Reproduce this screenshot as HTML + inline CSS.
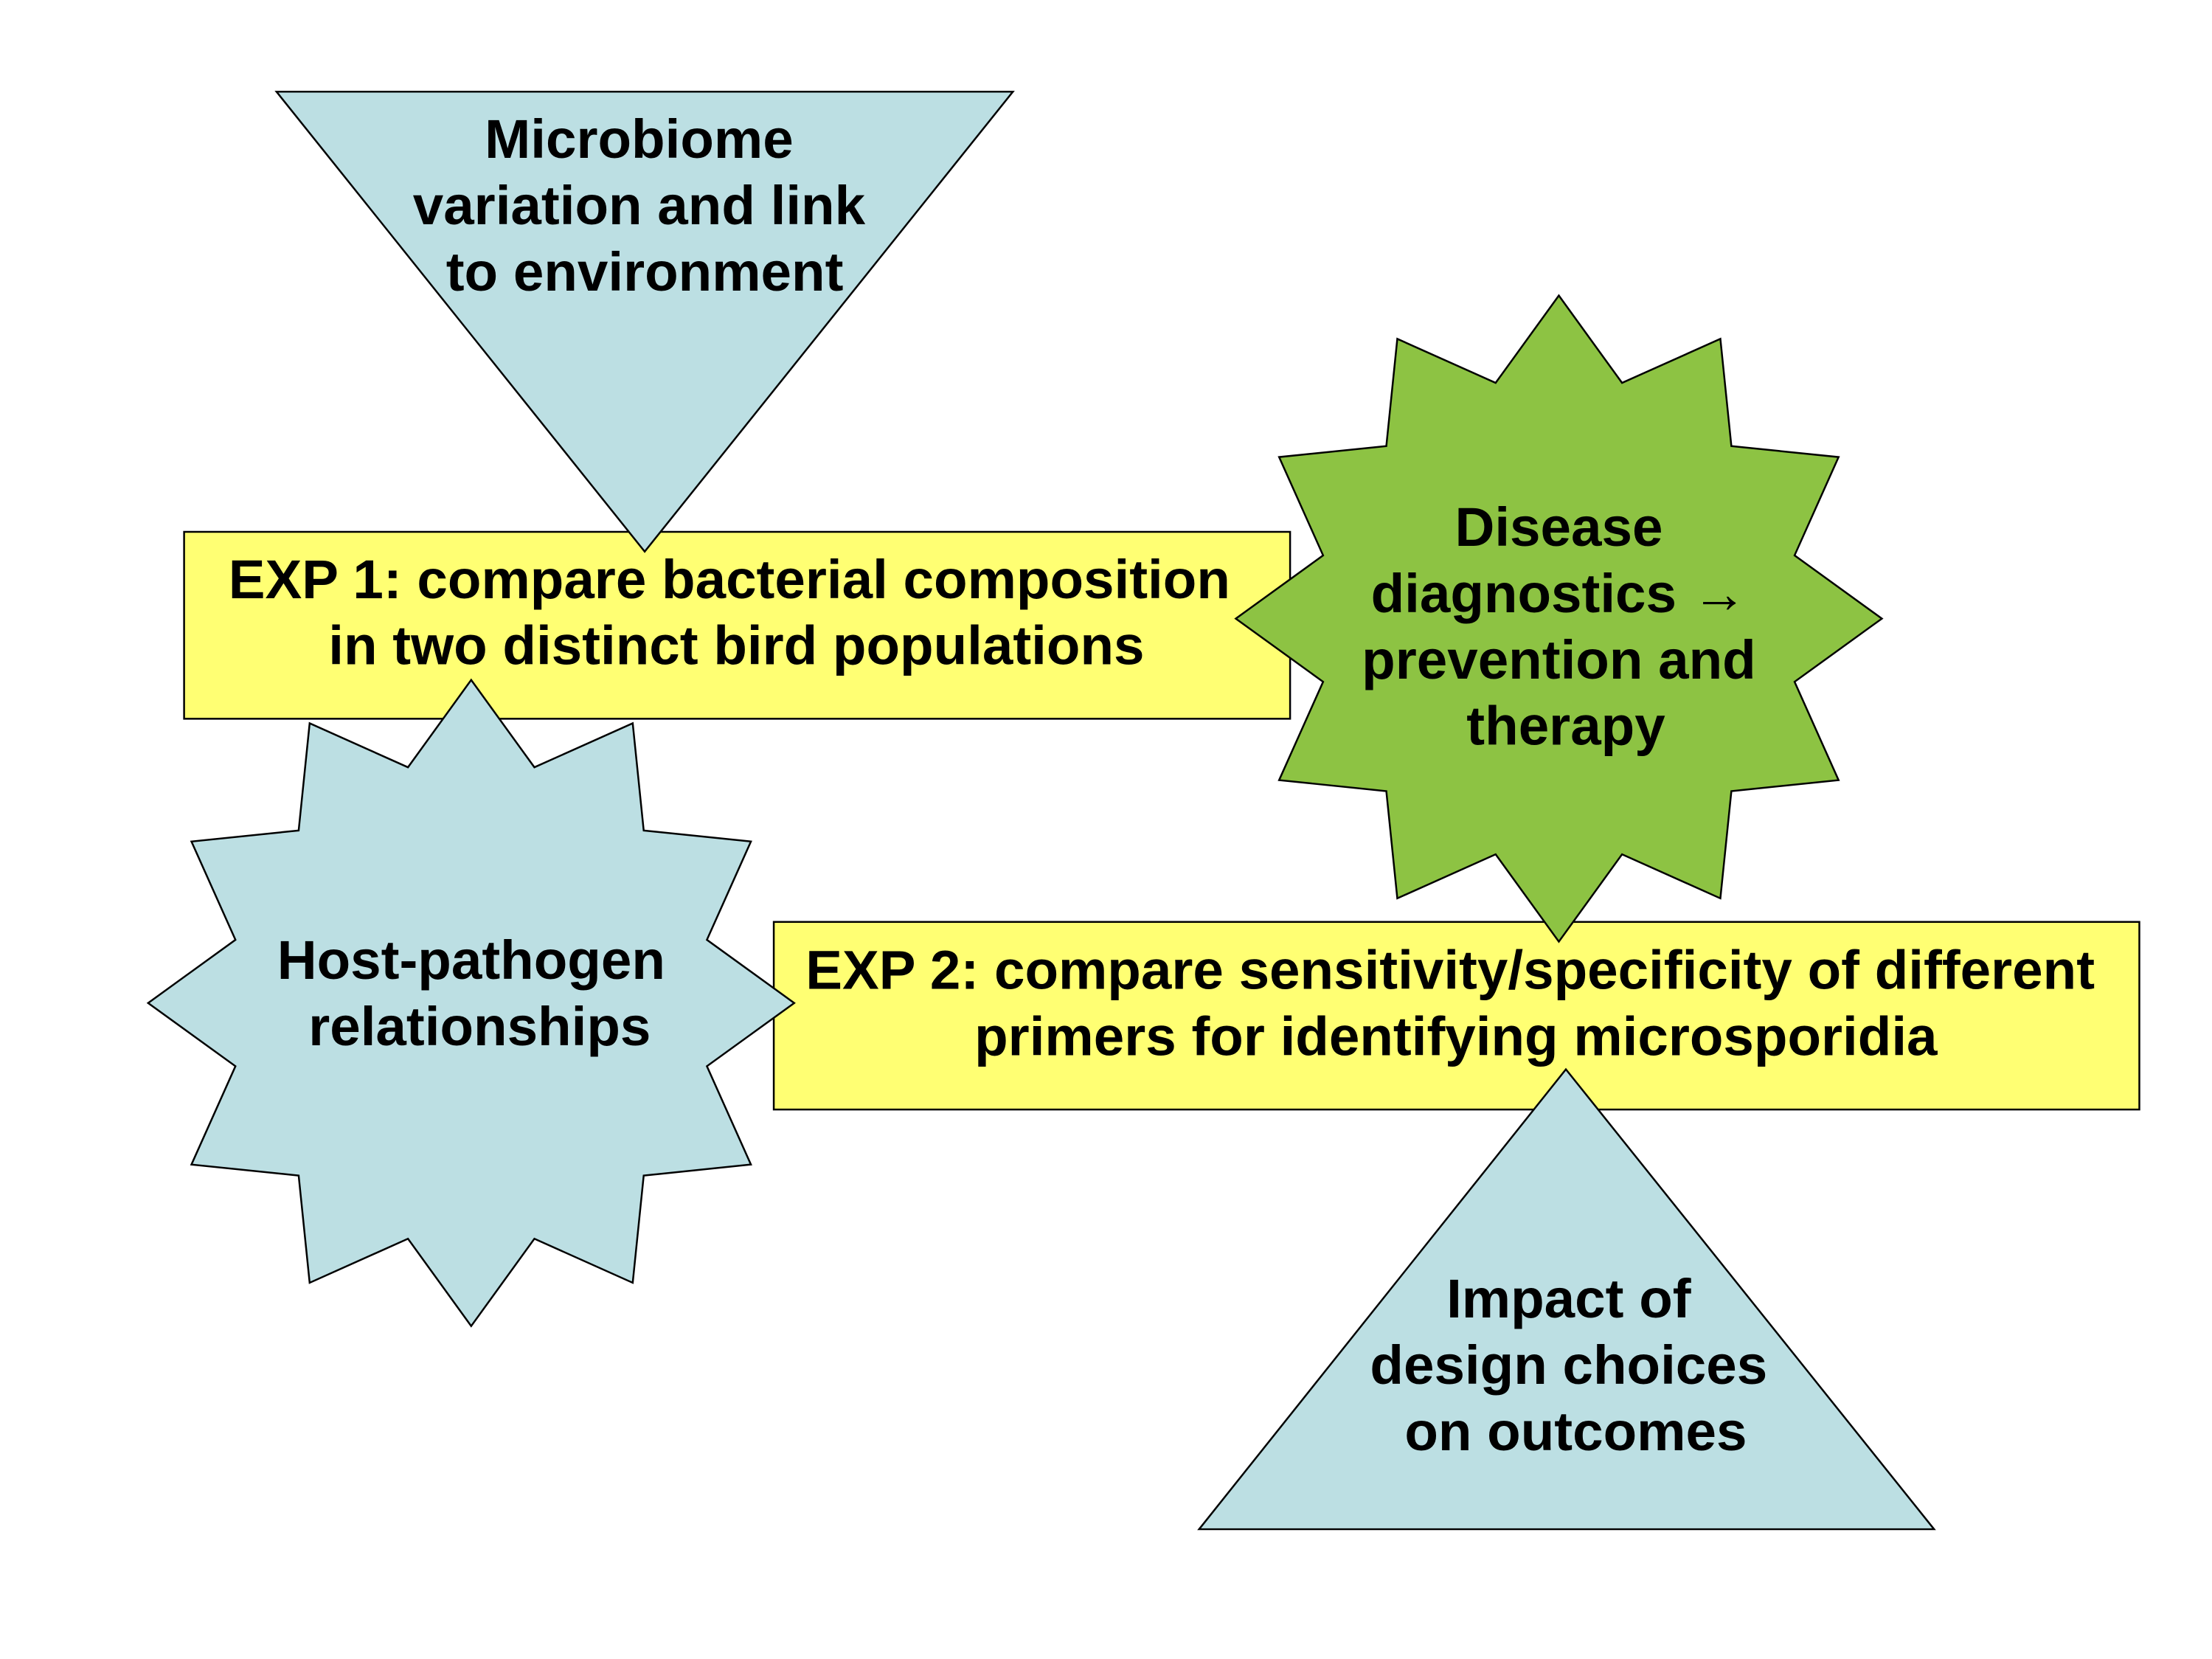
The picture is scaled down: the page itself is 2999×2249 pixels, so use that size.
<!DOCTYPE html>
<html><head><meta charset="utf-8"><style>
html,body{margin:0;padding:0;background:#fff;}
svg{display:block;}
text{font-family:"Liberation Sans",Arial,sans-serif;font-weight:bold;font-size:39px;fill:#000;text-anchor:middle;}
</style></head><body>
<svg width="2999" height="2249" viewBox="0 0 1568 1176" preserveAspectRatio="none" xmlns="http://www.w3.org/2000/svg">
<defs>
<polygon id="star" points="0,-229 44.8,-167.1 114.5,-198.3 122.3,-122.3 198.3,-114.5 167.1,-44.8 229,0 167.1,44.8 198.3,114.5 122.3,122.3 114.5,198.3 44.8,167.1 0,229 -44.8,167.1 -114.5,198.3 -122.3,122.3 -198.3,114.5 -167.1,44.8 -229,0 -167.1,-44.8 -198.3,-114.5 -122.3,-122.3 -114.5,-198.3 -44.8,-167.1"/>
</defs>
<g stroke="#000" stroke-width="1.3">
<rect x="130.5" y="377" width="784" height="132.5" fill="#FFFF73"/>
<rect x="548.5" y="653.5" width="968" height="133" fill="#FFFF73"/>
<polygon points="196,65 718,65 457,391" fill="#BCDFE3"/>
<use href="#star" transform="translate(1105,438.5)" fill="#8DC343"/>
<use href="#star" transform="translate(334,711)" fill="#BCDFE3"/>
<polygon points="1110,758 1371,1084 850,1084" fill="#BCDFE3"/>
</g>
<text x="453" y="112">Microbiome</text>
<text x="453" y="159">variation and link</text>
<text x="457" y="206">to environment</text>
<text x="517" y="424">EXP 1: compare bacterial composition</text>
<text x="522" y="471">in two distinct bird populations</text>
<text x="1105" y="387">Disease</text>
<text x="1105" y="434">diagnostics →</text>
<text x="1105" y="481">prevention and</text>
<text x="1110" y="528">therapy</text>
<text x="334" y="694">Host-pathogen</text>
<text x="340" y="741">relationships</text>
<text x="1028" y="701">EXP 2: compare sensitivity/specificity of different</text>
<text x="1032" y="748">primers for identifying microsporidia</text>
<text x="1112" y="934">Impact of</text>
<text x="1112" y="981">design choices</text>
<text x="1117" y="1028">on outcomes</text>
</svg>
</body></html>
